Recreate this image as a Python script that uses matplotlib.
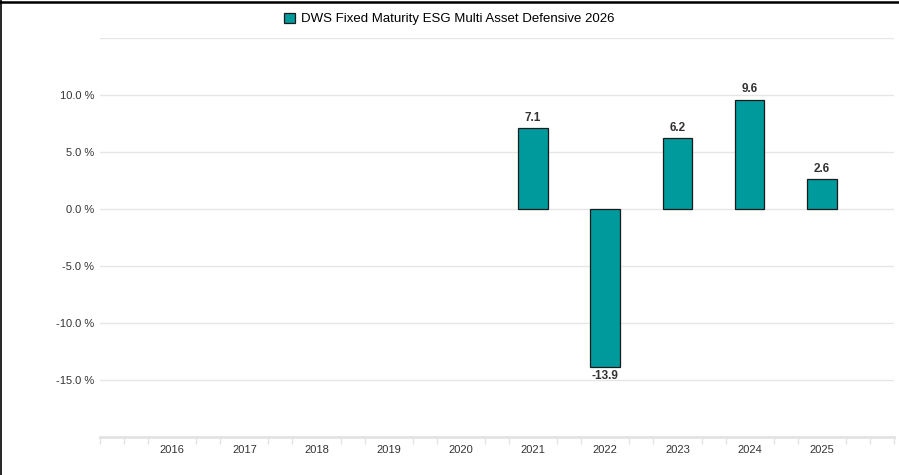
import numpy as np
import matplotlib.pyplot as plt
from matplotlib.lines import Line2D
from matplotlib.patches import Patch

plt.rcParams['font.family'] = ['Liberation Sans', 'DejaVu Sans']

years = ['2016', '2017', '2018', '2019', '2020', '2021', '2022', '2023', '2024', '2025']
returns = [np.nan, np.nan, np.nan, np.nan, np.nan, 7.1, -13.9, 6.2, 9.6, 2.6]
series_name = 'DWS Fixed Maturity ESG Multi Asset Defensive 2026'
yticks = [10, 5, 0, -5, -10, -15]

teal = '#009a9c'

fig = plt.figure(figsize=(8.99, 4.75), dpi=100)
ax = fig.add_axes([100 / 899, 38 / 475, 794 / 899, 399 / 475])

x = np.arange(len(years))
vals = np.array(returns, dtype=float)
bars = ax.bar(x, vals, width=0.41, color=teal, edgecolor='#1a1a1a', linewidth=0.9, zorder=3)

for xi, v in zip(x, vals):
    if np.isnan(v):
        continue
    if v >= 0:
        ax.annotate(f'{v:.1f}', (xi, v), xytext=(0, 3), textcoords='offset points',
                    ha='center', va='bottom', fontsize=8.5, fontweight='bold', color='#333333')
    else:
        ax.annotate(f'{v:.1f}', (xi, v), xytext=(0, -2), textcoords='offset points',
                    ha='center', va='top', fontsize=8.5, fontweight='bold', color='#333333')

ax.set_xlim(-1, len(years))
ax.set_ylim(-20, 15)

# gridlines
for g in [15, 10, 5, 0, -5, -10, -15]:
    ax.axhline(g, color='#e6e6e6', linewidth=1, zorder=1)

ax.set_yticks(yticks)
ax.set_yticklabels([f'{t:.1f} %' for t in yticks], fontsize=8, color='#333333')
ax.tick_params(axis='y', length=0, pad=4)

ax.set_xticks(x)
ax.set_xticklabels(years, fontsize=8, color='#333333')
ax.tick_params(axis='x', length=0, pad=6)
minor = [m / 3 for m in range(-3, 3 * len(years) + 1) if m % 3 != 0]
minor = [-1] + minor + [len(years)]
ax.set_xticks(minor, minor=True)
ax.tick_params(axis='x', which='minor', length=5, color='#e3e3e3', width=1)

for s in ['top', 'right', 'left']:
    ax.spines[s].set_visible(False)
ax.spines['bottom'].set_color('#e3e3e3')
ax.spines['bottom'].set_linewidth(2)

handle = Patch(facecolor=teal, edgecolor='#1a1a1a', linewidth=0.9)
fig.legend([handle], [series_name], loc='center', bbox_to_anchor=(0.5, 1 - 19 / 475),
           frameon=False, fontsize=9.5, handlelength=0.8, handleheight=0.8, handletextpad=0.5)

# screenshot frame (top and left)
fig.add_artist(Line2D([0, 1], [1 - 1.5 / 475, 1 - 1.5 / 475], color='black', linewidth=1.8, transform=fig.transFigure))
fig.add_artist(Line2D([1 / 899, 1 / 899], [0, 1], color='black', linewidth=1.2, transform=fig.transFigure))

fig.savefig('out.png', dpi=100)
